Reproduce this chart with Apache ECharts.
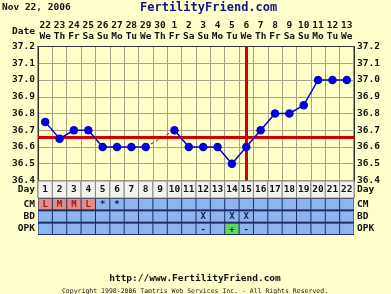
<!DOCTYPE html>
<html><head><meta charset="utf-8">
<script src="https://cdn.jsdelivr.net/npm/echarts@6/dist/echarts.min.js"></script>
<style>html,body{margin:0;padding:0;background:#ffffcc;}#c{width:391px;height:294px;}</style>
</head><body><div id="c"></div>
<script>
const days = ['1','2','3','4','5','6','7','8','9','10','11','12','13','14','15','16','17','18','19','20','21','22'];
const dates = ['22','23','24','25','26','27','28','29','30','1','2','3','4','5','6','7','8','9','10','11','12','13'];
const weekdays = ['We','Th','Fr','Sa','Su','Mo','Tu','We','Th','Fr','Sa','Su','Mo','Tu','We','Th','Fr','Sa','Su','Mo','Tu','We'];
const temps = [36.75,36.65,36.7,36.7,36.6,36.6,36.6,36.6,null,36.7,36.6,36.6,36.6,36.5,36.6,36.7,36.8,36.8,36.85,37.0,37.0,37.0];
const bridge = [null,null,null,null,null,null,null,36.6,null,36.7,null,null,null,null,null,null,null,null,null,null,null,null];
const yTicks = [36.4,36.5,36.6,36.7,36.8,36.9,37.0,37.1,37.2];
const coverline = 36.66;
const ovulationDay = '15';
const rowNames = ['CM','BD','OPK'];
const cm  = ['L','M','M','L','*','*','','','','','','','','','','','','','','','',''];
const bd  = ['','','','','','','','','','','','X','','X','X','','','','','','',''];
const opk = ['','','','','','','','','','','','-','','+','-','','','','','','',''];
const headerDate = 'Nov 22, 2006';
const siteName = 'FertilityFriend.com';
const footerUrl = 'http://www.FertilityFriend.com';
const footerCopy = 'Copyright 1998-2006 Tamtris Web Services Inc. - All Rights Reserved.';

const FONT = '"DejaVu Sans Mono", "Liberation Mono", monospace';
const chart = echarts.init(document.getElementById('c'));

const tableRows = [cm, bd, opk];
const tableData = [];
tableRows.forEach((row, r) => row.forEach((v, i) => tableData.push([i, r, v])));
const dayData = days.map((d, i) => [i, 0, d]);

function cellFill(r, t) {
  if (r === 0 && (t === 'L' || t === 'M')) return '#e98a8a';
  if (r === 2 && t === '+') return '#5fd85f';
  return '#8db4ee';
}
function textFill(r, t) {
  if (r === 0 && (t === 'L' || t === 'M')) return '#8a1f1f';
  return '#10205a';
}
const lbl = {interval: 0, margin: 3, fontFamily: FONT, fontWeight: 'bold', fontSize: 9.5, color: '#111'};

const option = {
  animation: false,
  backgroundColor: '#ffffcc',
  grid: [
    {left: 38, right: 37, top: 46.5, height: 134, show: true, backgroundColor: '#ffffc8', borderColor: '#333', borderWidth: 1},
    {left: 38, right: 37, top: 181, height: 17, show: true, backgroundColor: '#f3f3ee', borderColor: '#555', borderWidth: 1},
    {left: 38, right: 37, top: 198, height: 37, show: true, backgroundColor: '#1f2f63', borderWidth: 0}
  ],
  xAxis: [
    {gridIndex: 0, type: 'category', data: days, position: 'top', boundaryGap: true,
     axisLine: {show: true, lineStyle: {color: '#333'}}, axisTick: {show: false},
     splitLine: {show: true, lineStyle: {color: '#a5a48a', width: 1}},
     axisLabel: {interval: 0, margin: 4, fontFamily: FONT, fontWeight: 'bold', fontSize: 9.5, color: '#111', lineHeight: 11,
       formatter: (v, i) => dates[i] + '\n' + weekdays[i]}},
    {gridIndex: 1, type: 'category', data: days, boundaryGap: true, show: false},
    {gridIndex: 2, type: 'category', data: days, boundaryGap: true, show: false}
  ],
  yAxis: [
    {gridIndex: 0, type: 'value', min: yTicks[0], max: yTicks[yTicks.length-1], interval: 0.1, position: 'left',
     axisLine: {show: true, lineStyle: {color: '#333'}}, axisTick: {show: false},
     splitLine: {show: true, lineStyle: {color: '#a5a48a', width: 1}},
     axisLabel: Object.assign({}, lbl, {formatter: v => v.toFixed(1)})},
    {gridIndex: 0, type: 'value', min: yTicks[0], max: yTicks[yTicks.length-1], interval: 0.1, position: 'right',
     axisLine: {show: true, lineStyle: {color: '#333'}}, axisTick: {show: false}, splitLine: {show: false},
     axisLabel: Object.assign({}, lbl, {formatter: v => v.toFixed(1)})},
    {gridIndex: 1, type: 'category', data: ['Day'], position: 'left', axisLine: {show: false}, axisTick: {show: false}, axisLabel: lbl},
    {gridIndex: 1, type: 'category', data: ['Day'], position: 'right', axisLine: {show: false}, axisTick: {show: false}, axisLabel: lbl},
    {gridIndex: 2, type: 'category', data: rowNames, inverse: true, position: 'left', axisLine: {show: false}, axisTick: {show: false}, axisLabel: lbl},
    {gridIndex: 2, type: 'category', data: rowNames, inverse: true, position: 'right', axisLine: {show: false}, axisTick: {show: false}, axisLabel: lbl}
  ],
  series: [
    {type: 'line', xAxisIndex: 0, yAxisIndex: 0, data: bridge, connectNulls: true, symbol: 'none',
     lineStyle: {color: '#333366', width: 1, type: [3, 3]}, z: 2},
    {type: 'line', xAxisIndex: 0, yAxisIndex: 0, data: temps, connectNulls: false,
     symbol: 'circle', symbolSize: 8.5, itemStyle: {color: '#0000dd'}, lineStyle: {color: '#0000cc', width: 1.5}, z: 4,
     markLine: {silent: true, symbol: 'none', label: {show: false}, z: 3,
       lineStyle: {color: '#d40000', width: 3, type: 'solid'},
       data: [{yAxis: coverline}, {xAxis: days.indexOf(ovulationDay)}]}},
    {type: 'custom', xAxisIndex: 1, yAxisIndex: 2, data: dayData,
     renderItem: (params, api) => {
       const c = api.coord([api.value(0), api.value(1)]);
       const s = api.size([1, 1]);
       const t = dayData[params.dataIndex][2];
       return {type: 'group', children: [
         {type: 'rect', shape: {x: c[0] - s[0]/2, y: c[1] - s[1]/2, width: s[0], height: s[1]},
          style: {fill: '#f3f3ee', stroke: '#8a8a80', lineWidth: 1}},
         {type: 'text', style: {text: t, x: c[0], y: c[1] + 0.5, align: 'center', verticalAlign: 'middle',
          font: 'bold 9.5px ' + FONT, fill: '#111'}}]};
     }},
    {type: 'custom', xAxisIndex: 2, yAxisIndex: 4, data: tableData,
     renderItem: (params, api) => {
       const c = api.coord([api.value(0), api.value(1)]);
       const s = api.size([1, 1]);
       const d = tableData[params.dataIndex];
       const r = d[1], t = d[2];
       return {type: 'group', children: [
         {type: 'rect', shape: {x: c[0] - s[0]/2 + 0.5, y: c[1] - s[1]/2 + 1, width: s[0] - 1, height: s[1] - 2},
          style: {fill: cellFill(r, t)}},
         {type: 'text', style: {text: t, x: c[0], y: c[1] + 0.5, align: 'center', verticalAlign: 'middle',
          font: 'bold 9px ' + FONT, fill: textFill(r, t)}}]};
     }}
  ],
  graphic: [
    {type: 'text', left: 2, top: 3, style: {text: headerDate, font: 'bold 9.5px ' + FONT, fill: '#111'}},
    {type: 'text', left: 140, top: 2, style: {text: siteName, font: 'bold 12px ' + FONT, fill: '#14148a'}},
    {type: 'text', x: 35, y: 32, style: {text: 'Date', align: 'right', verticalAlign: 'middle', font: 'bold 9.5px ' + FONT, fill: '#111'}},
    {type: 'text', x: 195, y: 279, style: {text: footerUrl, align: 'center', verticalAlign: 'middle', font: 'bold 9.5px ' + FONT, fill: '#111'}},
    {type: 'text', x: 195, y: 291, style: {text: footerCopy, align: 'center', verticalAlign: 'middle', font: '6.5px ' + FONT, fill: '#222'}}
  ]
};
chart.setOption(option);
</script></body></html>
